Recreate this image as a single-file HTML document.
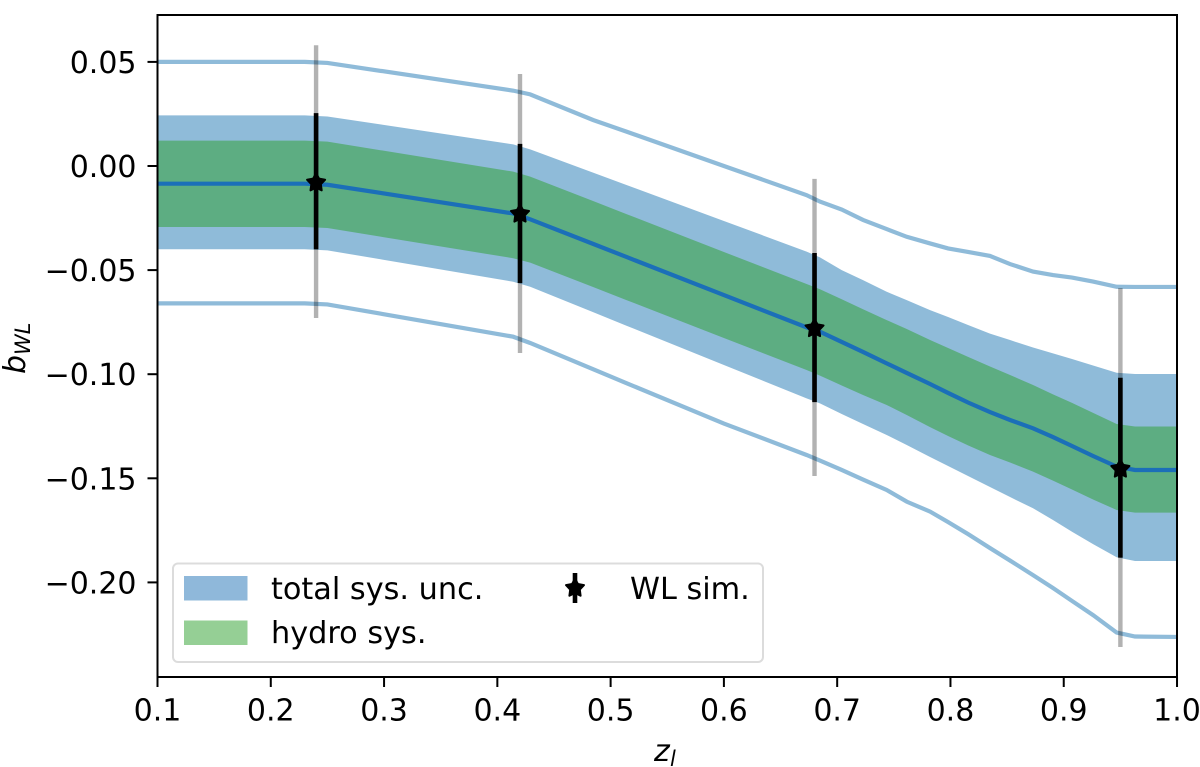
<!DOCTYPE html>
<html>
<head>
<meta charset="utf-8">
<style>
html,body{margin:0;padding:0;background:#fff;}
svg{display:block;}
text{font-family:"DejaVu Sans","Liberation Sans",sans-serif;fill:#000;}
</style>
</head>
<body>
<svg id="chart" width="1200" height="767" viewBox="0 0 1200 767" xmlns="http://www.w3.org/2000/svg"></svg>
<script>
const zGrid = [0.1,0.23,0.25,0.414,0.429,0.4845,0.514,0.6,0.673,0.6848,0.704,0.7228,0.7437,0.7614,0.782,0.7979,0.8155,0.8349,0.8526,0.8729,0.8905,0.9073,0.9259,0.9467,0.9629,1.0];
const outerUpper = [0.05,0.05,0.0495,0.0362,0.0344,0.0221,0.0165,0.0,-0.014,-0.0171,-0.0209,-0.0259,-0.0303,-0.034,-0.0372,-0.0396,-0.0413,-0.0432,-0.0471,-0.0507,-0.0524,-0.0536,-0.0555,-0.058,-0.0581,-0.0581];
const outerLower = [-0.066,-0.066,-0.0665,-0.082,-0.085,-0.0976,-0.1043,-0.1237,-0.1388,-0.1415,-0.146,-0.1506,-0.1556,-0.1612,-0.166,-0.171,-0.1768,-0.1835,-0.1895,-0.1965,-0.2027,-0.2089,-0.2157,-0.2241,-0.226,-0.2262];
const totalUpper = [0.0243,0.0243,0.0238,0.0104,0.008,-0.0032,-0.0091,-0.0264,-0.0411,-0.0439,-0.05,-0.0548,-0.0604,-0.0644,-0.0692,-0.0725,-0.0764,-0.0805,-0.0836,-0.0872,-0.09,-0.0927,-0.0958,-0.0993,-0.0999,-0.0999];
const totalLower = [-0.04,-0.04,-0.0405,-0.0556,-0.058,-0.0702,-0.0767,-0.0956,-0.1116,-0.114,-0.1191,-0.1239,-0.1292,-0.134,-0.1398,-0.1441,-0.1489,-0.1542,-0.159,-0.1644,-0.17,-0.1757,-0.1816,-0.1879,-0.1897,-0.1897];
const hydroUpper = [0.0122,0.0122,0.0117,-0.0027,-0.0051,-0.0168,-0.0231,-0.0413,-0.0567,-0.0592,-0.064,-0.0688,-0.074,-0.0783,-0.0836,-0.0874,-0.0917,-0.0963,-0.1004,-0.1052,-0.1097,-0.1138,-0.1186,-0.1239,-0.1251,-0.1251];
const hydroLower = [-0.0293,-0.0293,-0.0298,-0.0443,-0.0464,-0.0581,-0.0644,-0.0826,-0.098,-0.1007,-0.1054,-0.11,-0.1148,-0.1196,-0.1254,-0.1297,-0.1342,-0.1388,-0.1424,-0.1468,-0.1511,-0.1554,-0.1602,-0.1652,-0.1665,-0.1665];
const centerLine = [-0.0085,-0.0085,-0.009,-0.0228,-0.0256,-0.0374,-0.0437,-0.062,-0.0775,-0.0796,-0.0845,-0.0893,-0.0948,-0.0994,-0.1047,-0.109,-0.1136,-0.1182,-0.122,-0.126,-0.1302,-0.1345,-0.1393,-0.1444,-0.146,-0.146];
const simZ = [0.24,0.42,0.68,0.95];
const simValue = [-0.008,-0.023,-0.078,-0.1455];
const simInnerTop = [0.0254,0.0106,-0.0418,-0.1017];
const simInnerBottom = [-0.04,-0.0562,-0.1134,-0.1881];
const simOuterTop = [0.058,0.0442,-0.0062,-0.0586];
const simOuterBottom = [-0.073,-0.0898,-0.1489,-0.231];
const xTicks = [0.1,0.2,0.3,0.4,0.5,0.6,0.7,0.8,0.9,1.0];
const xTickLabels = ["0.1","0.2","0.3","0.4","0.5","0.6","0.7","0.8","0.9","1.0"];
const yTicks = [0.05,0,-0.05,-0.10,-0.15,-0.20];
const yTickLabels = ["0.05","0.00","\u22120.05","\u22120.10","\u22120.15","\u22120.20"];

const NS = "http://www.w3.org/2000/svg";
const svg = document.getElementById("chart");
const L = 157.5, R = 1177, T = 15, B = 677;
const sx = z => L + (z - 0.1) * 1132.8;
const sy = v => 166 - v * 2082;

function mk(tag, attrs, parent) {
  const el = document.createElementNS(NS, tag);
  for (const k in attrs) el.setAttribute(k, attrs[k]);
  (parent || svg).appendChild(el);
  return el;
}
function linePath(xs, ys) {
  return xs.map((z, i) => (i ? "L" : "M") + sx(z).toFixed(2) + " " + sy(ys[i]).toFixed(2)).join(" ");
}
function bandPath(xs, up, lo) {
  const a = xs.map((z, i) => sx(z).toFixed(2) + "," + sy(up[i]).toFixed(2));
  const b = xs.map((z, i) => sx(z).toFixed(2) + "," + sy(lo[i]).toFixed(2)).reverse();
  return a.concat(b).join(" ");
}
function starPoints(cx, cy, rOut, rIn) {
  const p = [];
  for (let i = 0; i < 10; i++) {
    const r = i % 2 ? rIn : rOut;
    const a = -Math.PI / 2 + i * Math.PI / 5;
    p.push((cx + r * Math.cos(a)).toFixed(2) + "," + (cy + r * Math.sin(a)).toFixed(2));
  }
  return p.join(" ");
}

const totalBand = mk("polygon", {points: bandPath(zGrid, totalUpper, totalLower), fill: "#1f77b4", "fill-opacity": 0.5});



const hydroBand = mk("polygon", {points: bandPath(zGrid, hydroUpper, hydroLower), fill: "#2ca02c", "fill-opacity": 0.5});



const centre = mk("path", {d: linePath(zGrid, centerLine), fill: "none", stroke: "#1b6fb8", "stroke-width": 4.2});



const upperLine = mk("path", {d: linePath(zGrid, outerUpper), fill: "none", stroke: "#1f77b4", "stroke-opacity": 0.5, "stroke-width": 4.2});



const lowerLine = mk("path", {d: linePath(zGrid, outerLower), fill: "none", stroke: "#1f77b4", "stroke-opacity": 0.5, "stroke-width": 4.2});



simZ.forEach((z, i) => {
  const x = sx(z);
  const outer = mk("line", {x1: x, x2: x, y1: sy(simOuterTop[i]), y2: sy(simOuterBottom[i]), stroke: "#000", "stroke-opacity": 0.3, "stroke-width": 4.4});
  
  
  const inner = mk("line", {x1: x, x2: x, y1: sy(simInnerTop[i]), y2: sy(simInnerBottom[i]), stroke: "#000", "stroke-width": 4.6});
  
  
  const star = mk("polygon", {points: starPoints(x, sy(simValue[i]), 9.5, 5), fill: "#000", stroke: "#000", "stroke-width": 2, "stroke-linejoin": "round"});
  
  
});

const frame = mk("rect", {x: L, y: T, width: R - L, height: B - T, fill: "none", stroke: "#000", "stroke-width": 2});



xTicks.forEach((t, i) => {
  const x = sx(t);
  const tick = mk("line", {x1: x, x2: x, y1: B, y2: B + 10, stroke: "#000", "stroke-width": 2});
  
  
  const lab = mk("text", {x: x, y: 720.5, "text-anchor": "middle", "font-size": 30});
  
  
  lab.textContent = xTickLabels[i];
});
yTicks.forEach((t, i) => {
  const y = sy(t);
  const tick = mk("line", {x1: L - 10, x2: L, y1: y, y2: y, stroke: "#000", "stroke-width": 2});
  
  
  const lab = mk("text", {x: 136.5, y: y + 11, "text-anchor": "end", "font-size": 30});
  
  
  lab.textContent = yTickLabels[i];
});
</script>
<script>
(function () {
  const svg = document.getElementById("chart");
  const NS = "http://www.w3.org/2000/svg";
  const g = document.createElementNS(NS, "g");
  
  
  g.innerHTML =
    '<rect x="173" y="563.5" width="590" height="98.5" rx="5" fill="#fff" fill-opacity="0.85" stroke="#dcdcdc" stroke-width="2"/>' +
    '<rect x="184" y="576" width="63.5" height="24.5" fill="#8fb8da"/>' +
    '<rect x="184" y="620.5" width="63.5" height="24.5" fill="#95cf95"/>' +
    '<text x="271" y="599" font-size="30.3">total sys. unc.</text>' +
    '<text x="271" y="643" font-size="30.3">hydro sys.</text>' +
    '<line x1="575" x2="575" y1="573" y2="603" stroke="#000" stroke-width="4.6"/>' +
    '<polygon points="575,578.5 577.9,584 584,585.1 579.8,589.5 580.6,595.7 575,593 569.4,595.7 570.2,589.5 566,585.1 572.1,584" fill="#000" stroke="#000" stroke-width="2" stroke-linejoin="round"/>' +
    '<text x="630" y="599" font-size="30.3">WL sim.</text>';
  svg.appendChild(g);

  const labels = document.createElementNS(NS, "g");
  
  
  labels.innerHTML =
    '<text x="654" y="761" font-size="30" font-style="italic">z</text>' +
    '<text x="670" y="766" font-size="21" font-style="italic">l</text>' +
    '<text transform="translate(25,374) rotate(-90)" font-size="30" font-style="italic">b</text>' +
    '<text transform="translate(30,355) rotate(-90)" font-size="21" font-style="italic">WL</text>';
  svg.appendChild(labels);
})();
</script>
</body>
</html>
